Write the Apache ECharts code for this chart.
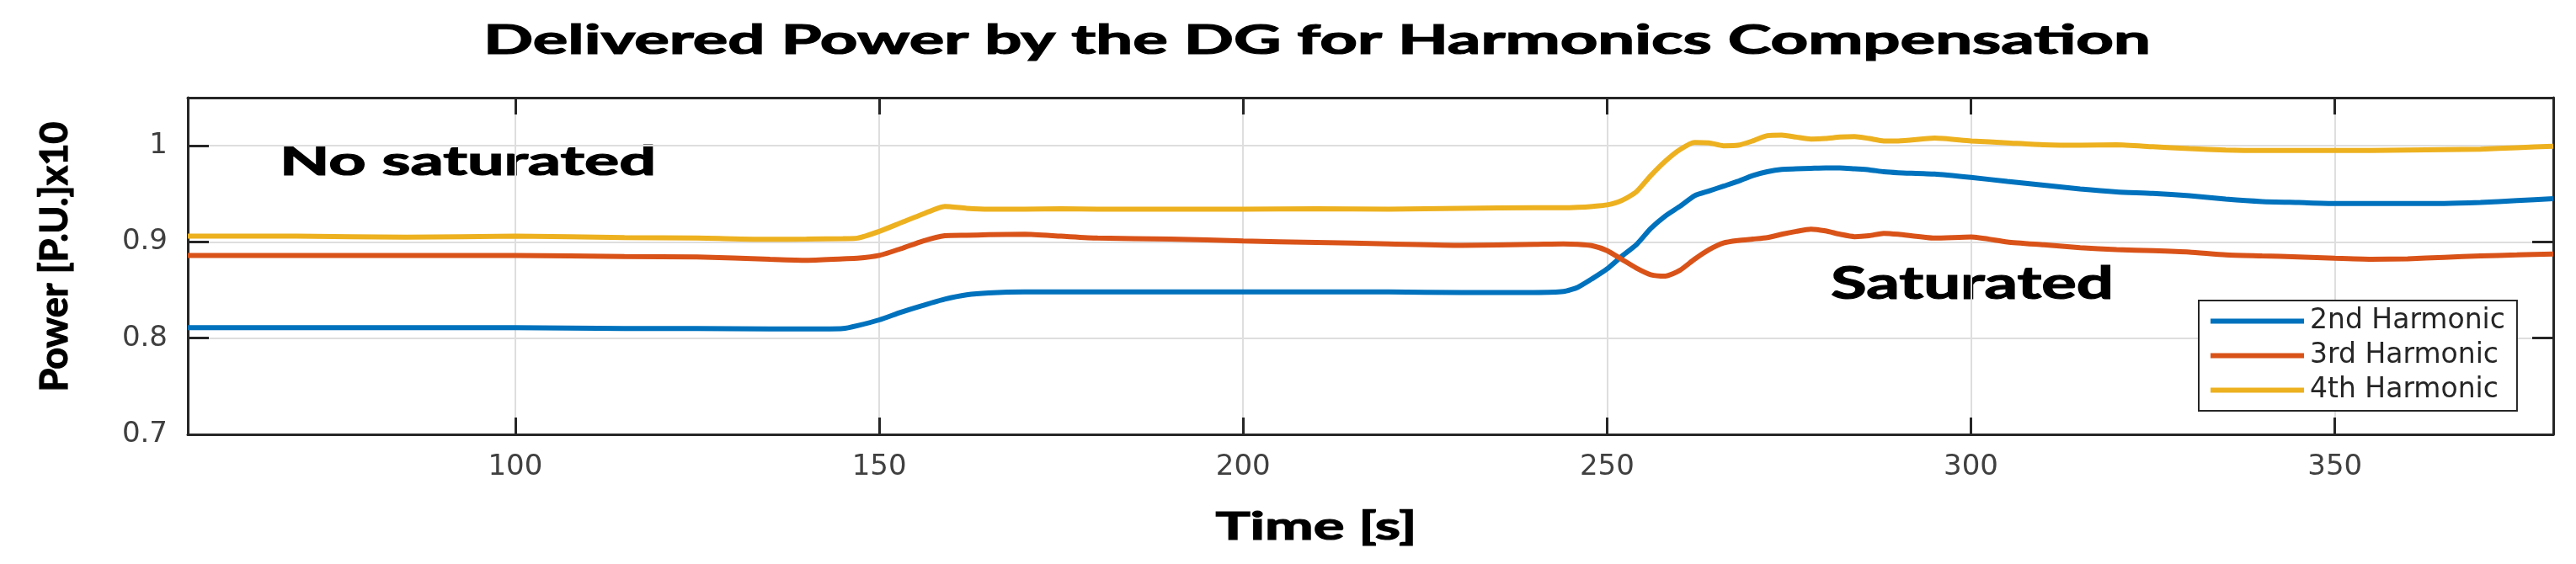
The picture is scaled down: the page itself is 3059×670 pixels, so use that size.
<!DOCTYPE html>
<html>
<head>
<meta charset="utf-8">
<script src="https://cdn.jsdelivr.net/npm/echarts@6/dist/echarts.min.js"></script>
<style>
  html, body { margin: 0; padding: 0; background: #fff; }
  #main { width: 3059px; height: 670px; }
</style>
</head>
<body>
<div id="main"></div>
<script>
// time samples [s]
var times = [55, 70, 85, 100, 115, 125, 135, 140, 145, 147, 150, 153, 156, 159, 162, 165, 170, 175, 180, 190,
  200, 210, 220, 230, 240, 244, 246, 248, 250, 252, 254, 256, 258, 260, 262, 264, 266, 268, 270, 272,
  274, 276, 278, 280, 282, 284, 286, 288, 290, 295, 300, 305, 310, 315, 320, 325, 330, 335, 340, 345,
  350, 355, 360, 365, 370, 375, 380];

// 2nd harmonic
var h2 = [0.811, 0.811, 0.811, 0.811, 0.810, 0.810, 0.8095, 0.8095, 0.810, 0.813, 0.819, 0.827, 0.834, 0.8405, 0.845, 0.847, 0.848, 0.848, 0.848, 0.848,
  0.848, 0.848, 0.848, 0.8475, 0.8475, 0.8485, 0.853, 0.862, 0.872, 0.885, 0.897, 0.914, 0.927, 0.937, 0.948, 0.953, 0.958, 0.963, 0.969, 0.973,
  0.9755, 0.976, 0.9765, 0.977, 0.977, 0.976, 0.975, 0.973, 0.972, 0.9705, 0.967, 0.963, 0.959, 0.955, 0.952, 0.9505, 0.948, 0.9445, 0.942, 0.941,
  0.940, 0.940, 0.940, 0.940, 0.941, 0.943, 0.945];

// 3rd harmonic
var h3 = [0.886, 0.886, 0.886, 0.886, 0.8848, 0.8845, 0.882, 0.881, 0.8825, 0.883, 0.886, 0.893, 0.901, 0.9065, 0.907, 0.9075, 0.908, 0.906, 0.904, 0.903,
  0.901, 0.8995, 0.898, 0.8965, 0.8975, 0.898, 0.8975, 0.896, 0.891, 0.882, 0.873, 0.866, 0.8645, 0.8705, 0.882, 0.892, 0.899, 0.9015, 0.903, 0.9045,
  0.908, 0.911, 0.9133, 0.9115, 0.908, 0.9055, 0.9065, 0.909, 0.908, 0.904, 0.9052, 0.900, 0.897, 0.894, 0.892, 0.891, 0.8895, 0.8865, 0.8855, 0.8845,
  0.883, 0.882, 0.8825, 0.884, 0.8855, 0.8865, 0.8875];

// 4th harmonic
var h4 = [0.906, 0.906, 0.905, 0.906, 0.9045, 0.904, 0.9027, 0.903, 0.9035, 0.904, 0.911, 0.920, 0.929, 0.937, 0.935, 0.934, 0.934, 0.9345, 0.934, 0.934,
  0.934, 0.9345, 0.934, 0.935, 0.9355, 0.9355, 0.936, 0.937, 0.9385, 0.943, 0.952, 0.969, 0.984, 0.996, 1.0035, 1.003, 1.000, 1.0005, 1.005, 1.0105,
  1.011, 1.009, 1.007, 1.0075, 1.009, 1.0095, 1.0075, 1.005, 1.005, 1.008, 1.005, 1.003, 1.001, 1.0005, 1.001, 0.999, 0.997, 0.9955, 0.995, 0.995,
  0.995, 0.995, 0.9955, 0.996, 0.9965, 0.998, 0.9995];

var seriesNames = ['2nd Harmonic', '3rd Harmonic', '4th Harmonic'];
var seriesValues = [h2, h3, h4];
var colors = ['#0072BD', '#D95319', '#EDB120'];

// width-fit helper for the stretched bold texts
var measureCtx = document.createElement('canvas').getContext('2d');
function fitScale(text, font, target) {
    measureCtx.font = font;
    return target / measureCtx.measureText(text).width;
}

function boldText(text, size, x, y, width, align, rotation) {
    var font = 'bold ' + size + 'px Lato';
    var el = {
        type: 'text',
        x: x,
        y: y,
        scaleX: fitScale(text, font, width),
        style: {
            text: text,
            font: font,
            fill: '#000',
            stroke: '#000',
            lineWidth: 1.2,
            align: align,
            verticalAlign: 'middle'
        }
    };
    if (rotation) el.rotation = rotation;
    return el;
}

var axisColor = '#262626';
var labelStyle = { color: '#404040', fontFamily: 'DejaVu Sans', fontSize: 34 };

var myChart = echarts.init(document.getElementById('main'));

var option = {
    animation: false,
    backgroundColor: '#fff',
    color: colors,
    grid: { left: 223, right: 27, top: 116, bottom: 154, containLabel: false },
    legend: {
        orient: 'vertical',
        left: 2611,
        top: 357,
        padding: [8, 14, 8, 14],
        itemGap: 8,
        itemWidth: 111,
        itemHeight: 6,
        icon: 'rect',
        backgroundColor: '#fff',
        borderColor: axisColor,
        borderWidth: 2,
        borderRadius: 0,
        textStyle: { color: '#262626', fontFamily: 'DejaVu Sans', fontSize: 33, padding: [0, 0, 0, 2] },
        data: seriesNames
    },
    xAxis: [{
        type: 'value',
        min: 55,
        max: 380,
        splitNumber: 6,
        axisLine: { show: true, lineStyle: { color: axisColor, width: 3 } },
        axisTick: { show: true, inside: true, length: 20, lineStyle: { color: axisColor, width: 3 } },
        axisLabel: {
            show: true, margin: 22, color: labelStyle.color, fontFamily: labelStyle.fontFamily, fontSize: labelStyle.fontSize,
            showMinLabel: false, showMaxLabel: false,
            formatter: function (v) { return v % 50 === 0 ? String(v) : ''; }
        },
        splitLine: { show: true, lineStyle: { color: '#dedede', width: 2 } }
    }, {
        type: 'value',
        position: 'top',
        min: 55,
        max: 380,
        splitNumber: 6,
        axisLine: { show: true, lineStyle: { color: axisColor, width: 3 } },
        axisTick: { show: true, inside: true, length: 20, lineStyle: { color: axisColor, width: 3 } },
        axisLabel: { show: false },
        splitLine: { show: false }
    }],
    yAxis: [{
        type: 'value',
        min: 0.7,
        max: 1.05,
        interval: 0.1,
        axisLine: { show: true, lineStyle: { color: axisColor, width: 3 } },
        axisTick: { show: true, inside: true, length: 25, lineStyle: { color: axisColor, width: 3 } },
        axisLabel: {
            show: true, margin: 24, color: labelStyle.color, fontFamily: labelStyle.fontFamily, fontSize: labelStyle.fontSize,
            showMaxLabel: false,
            formatter: function (v) {
                var k = v * 10;
                if (Math.abs(k - Math.round(k)) > 1e-6) return '';
                return String(Math.round(k) / 10);
            }
        },
        splitLine: { show: true, lineStyle: { color: '#dedede', width: 2 } }
    }, {
        type: 'value',
        position: 'right',
        min: 0.7,
        max: 1.05,
        interval: 0.1,
        axisLine: { show: true, lineStyle: { color: axisColor, width: 3 } },
        axisTick: { show: true, inside: true, length: 25, lineStyle: { color: axisColor, width: 3 } },
        axisLabel: { show: false },
        splitLine: { show: false }
    }],
    graphic: [
        boldText('Delivered Power by the DG for Harmonics Compensation', 48, 1564, 49, 1980, 'center'),
        boldText('Power [P.U.]x10', 46, 65, 305, 321, 'center', Math.PI / 2),
        boldText('Time [s]', 45, 1563, 626, 239, 'center'),
        boldText('No saturated', 48, 332, 193, 447, 'left'),
        boldText('Saturated', 53, 2174, 338, 336, 'left')
    ],
    series: seriesValues.map(function (vals, k) {
        return {
            name: seriesNames[k],
            type: 'line',
            xAxisIndex: 0,
            yAxisIndex: 0,
            showSymbol: false,
            smooth: 0.2,
            lineStyle: { width: 6, color: colors[k] },
            data: times.map(function (t, i) { return [t, vals[i]]; })
        };
    })
};

myChart.setOption(option);
</script>
</body>
</html>
